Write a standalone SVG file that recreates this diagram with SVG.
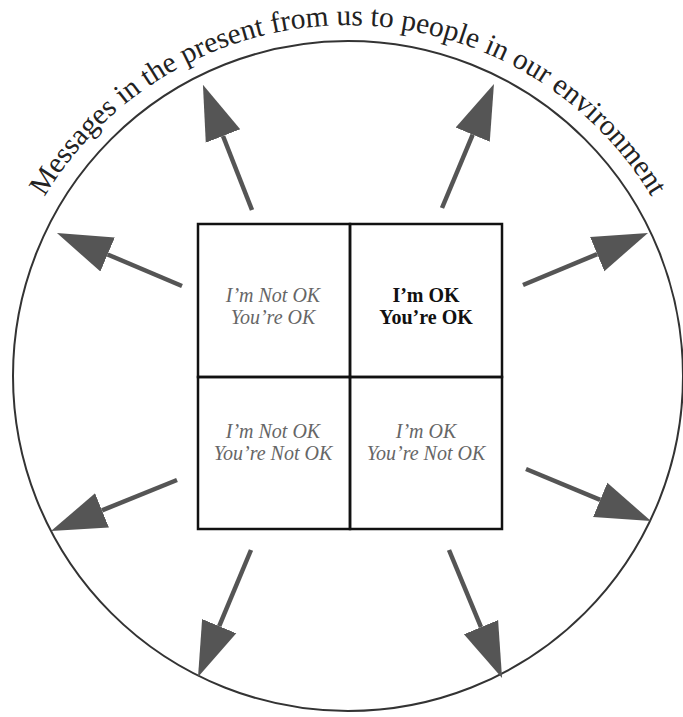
<svg xmlns="http://www.w3.org/2000/svg" xmlns:xlink="http://www.w3.org/1999/xlink" width="683" height="717" viewBox="0 0 683 717">
<style>
.arrow{stroke:#555;stroke-width:4.5;fill:none;marker-end:url(#head)}
.cell{fill:none;stroke:#111;stroke-width:2.5}
.it{font-family:"Liberation Serif","Times New Roman",serif;font-style:italic;font-size:20px;fill:#666;text-anchor:middle}
.bd{font-family:"Liberation Serif","Times New Roman",serif;font-weight:bold;font-size:20px;fill:#111;text-anchor:middle}
.title{font-family:"Liberation Serif","Times New Roman",serif;font-size:29.5px;fill:#222}
</style>
<defs>
<marker id="head" markerUnits="userSpaceOnUse" markerWidth="60" markerHeight="40" viewBox="0 -20 60 40" refX="0" refY="0" orient="auto">
<path d="M0,-18.5 L55,0 L0,18.5 z" fill="#555"/>
</marker>
<path id="arc" d="M6.1,287.4 A354,354 0 0 1 689.9,287.4"/>
</defs>
<rect width="683" height="717" fill="#fff"/>
<g id="boundary">
<circle cx="348" cy="376" r="335" fill="none" stroke="#333" stroke-width="2"/>
<text class="title"><textPath xlink:href="#arc" href="#arc" startOffset="50%" text-anchor="middle">Messages in the present from us to people in our environment</textPath></text>
</g>
<g id="connectors">
<line class="arrow" x1="252" y1="210" x2="223" y2="136"/>
<line class="arrow" x1="442" y1="208" x2="472.7" y2="134.7"/>
<line class="arrow" x1="182" y1="286" x2="107.6" y2="254.5"/>
<line class="arrow" x1="523" y1="285" x2="597.2" y2="254.1"/>
<line class="arrow" x1="177" y1="480" x2="102" y2="510.4"/>
<line class="arrow" x1="526" y1="469" x2="600.2" y2="499.9"/>
<line class="arrow" x1="251" y1="550" x2="219.2" y2="626.2"/>
<line class="arrow" x1="449" y1="550" x2="481" y2="627.2"/>
</g>
<g id="q-notok-ok">
<rect class="cell" x="198" y="224" width="152" height="153"/>
<text class="it" x="273" y="302">I’m Not OK</text>
<text class="it" x="273" y="324">You’re OK</text>
</g>
<g id="q-ok-ok">
<rect class="cell" x="350" y="224" width="152" height="153"/>
<text class="bd" x="426" y="302">I’m OK</text>
<text class="bd" x="426" y="324">You’re OK</text>
</g>
<g id="q-notok-notok">
<rect class="cell" x="198" y="377" width="152" height="152"/>
<text class="it" x="273" y="438">I’m Not OK</text>
<text class="it" x="273" y="460">You’re Not OK</text>
</g>
<g id="q-ok-notok">
<rect class="cell" x="350" y="377" width="152" height="152"/>
<text class="it" x="426" y="438">I’m OK</text>
<text class="it" x="426" y="460">You’re Not OK</text>
</g>
</svg>
